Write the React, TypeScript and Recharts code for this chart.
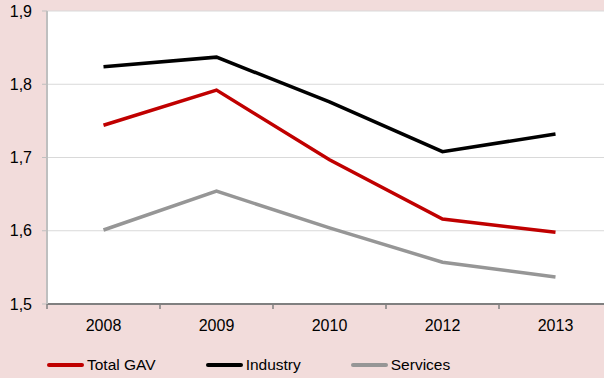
import { LineChart, Line, XAxis, YAxis, CartesianGrid, Legend } from "recharts"

const years = ["2008", "2009", "2010", "2012", "2013"]
const totalGav = [1.744, 1.792, 1.697, 1.616, 1.598]
const industry = [1.824, 1.837, 1.776, 1.708, 1.732]
const services = [1.601, 1.654, 1.604, 1.557, 1.537]
const yTicks = [1.5, 1.6, 1.7, 1.8, 1.9]

const series = [
  { key: "total", label: "Total GAV", color: "#c00000" },
  { key: "industry", label: "Industry", color: "#000000" },
  { key: "services", label: "Services", color: "#969696" },
]

const data = years.map((year, i) => ({
  year,
  total: totalGav[i],
  industry: industry[i],
  services: services[i],
}))

const font = '"Liberation Sans", Arial, sans-serif'
const X_TICK_MARGIN = 16

// category label plus a tick mark at the left edge of its band (Excel style)
function YearTick(props: any) {
  const { x, y, payload } = props
  const axisY = y - X_TICK_MARGIN
  const edge = x - (payload.offset ?? 0)
  return (
    <g>
      <line x1={edge} x2={edge} y1={axisY} y2={axisY + 5} stroke="#808080" strokeWidth={1.5} />
      <text x={x} y={y} dy="0.71em" textAnchor="middle" fontSize={16} fill="#000" fontFamily={font}>
        {payload.value}
      </text>
    </g>
  )
}

function LegendContent() {
  return (
    <div
      style={{
        height: 40,
        display: "flex",
        alignItems: "center",
        paddingTop: 14,
        boxSizing: "border-box",
        paddingLeft: 40,
        gap: 50,
        fontFamily: font,
        fontSize: 15.5,
        color: "#000",
      }}
    >
      {series.map((s) => (
        <div key={s.key} style={{ display: "flex", alignItems: "center" }}>
          <span
            style={{
              display: "inline-block",
              width: 37,
              height: 4,
              borderRadius: 2,
              background: s.color,
              marginRight: 3,
            }}
          />
          <span>{s.label}</span>
        </div>
      ))}
    </div>
  )
}

export default function App() {
  return (
    <div
      style={{
        position: "absolute",
        left: 0,
        top: 0,
        width: 604,
        height: 378,
        overflow: "hidden",
        background: "#f2dcdb",
        fontFamily: font,
      }}
    >
      <LineChart width={612} height={378} data={data} margin={{ top: 11, right: 0, left: 7, bottom: 0 }}>
        <CartesianGrid vertical={false} stroke="#d9d9d9" fill="#ffffff" />
        <XAxis
          dataKey="year"
          scale="band"
          height={34}
          tickSize={0}
          tickMargin={X_TICK_MARGIN}
          tickLine={false}
          axisLine={{ stroke: "#808080", strokeWidth: 2 }}
          tick={<YearTick />}
        />
        <YAxis
          domain={[1.5, 1.9]}
          ticks={yTicks}
          width={40}
          tickSize={5}
          tickMargin={10}
          tickFormatter={(v: number) => v.toFixed(1).replace(".", ",")}
          tick={{ fontSize: 16, fill: "#000", fontFamily: font }}
          axisLine={{ stroke: "#bfbfbf", strokeWidth: 2 }}
          tickLine={{ stroke: "#bfbfbf" }}
        />
        <Legend verticalAlign="bottom" align="left" height={40} content={<LegendContent />} />
        {series.map((s) => (
          <Line
            key={s.key}
            type="linear"
            dataKey={s.key}
            stroke={s.color}
            strokeWidth={3.5}
            dot={false}
            isAnimationActive={false}
          />
        ))}
      </LineChart>
    </div>
  )
}
